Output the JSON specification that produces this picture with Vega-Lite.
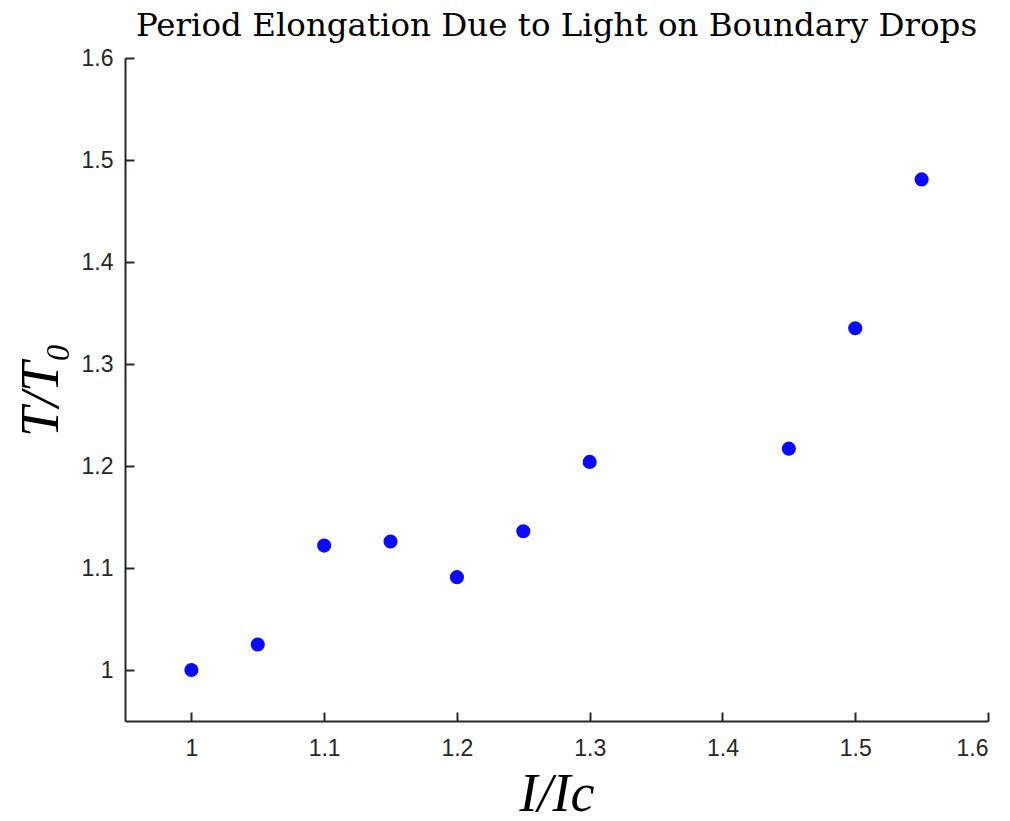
{
  "$schema": "https://vega.github.io/schema/vega-lite/v6.json",
  "width": 863,
  "height": 663,
  "autosize": {"type": "none"},
  "padding": {"left": 125, "top": 58, "right": 22, "bottom": 100},
  "background": "white",
  "title": {
    "text": "Period Elongation Due to Light on Boundary Drops",
    "font": "DejaVu Serif",
    "fontSize": 32.5,
    "fontWeight": "normal",
    "color": "#000000",
    "offset": 5,
    "anchor": "middle"
  },
  "data": {
    "values": [
      {"x": 1.0, "y": 1.0},
      {"x": 1.05, "y": 1.025},
      {"x": 1.1, "y": 1.122},
      {"x": 1.15, "y": 1.126},
      {"x": 1.2, "y": 1.091},
      {"x": 1.25, "y": 1.136},
      {"x": 1.3, "y": 1.204},
      {"x": 1.45, "y": 1.217},
      {"x": 1.5, "y": 1.335},
      {"x": 1.55, "y": 1.481}
    ]
  },
  "mark": {"type": "point", "shape": "circle", "filled": true, "size": 200, "color": "#0a0aff", "opacity": 1},
  "encoding": {
    "x": {
      "field": "x",
      "type": "quantitative",
      "scale": {"domain": [0.95, 1.6], "nice": false, "zero": false},
      "axis": {
        "values": [1, 1.1, 1.2, 1.3, 1.4, 1.5, 1.6],
        "format": "~g",
        "labelPadding": 25,
        "title": "I/Ic",
        "titleFont": "Liberation Serif",
        "titleFontStyle": "italic",
        "titleFontWeight": "normal",
        "titleFontSize": 54,
        "titleColor": "#000000",
        "titlePadding": 7
      }
    },
    "y": {
      "field": "y",
      "type": "quantitative",
      "scale": {"domain": [0.95, 1.6], "nice": false, "zero": false},
      "axis": {
        "values": [1, 1.1, 1.2, 1.3, 1.4, 1.5, 1.6],
        "format": "~g",
        "labelPadding": 21,
        "title": "T/T₀",
        "titleFont": "Liberation Serif",
        "titleFontStyle": "italic",
        "titleFontWeight": "normal",
        "titleFontSize": 54,
        "titleColor": "#000000",
        "titlePadding": 13
      }
    }
  },
  "config": {
    "view": {"stroke": null},
    "axis": {
      "grid": false,
      "domainColor": "#262626",
      "domainWidth": 2,
      "tickColor": "#262626",
      "tickWidth": 2,
      "tickSize": -9,
      "labelFont": "Liberation Sans",
      "labelFontSize": 23,
      "labelColor": "#262626"
    }
  }
}
